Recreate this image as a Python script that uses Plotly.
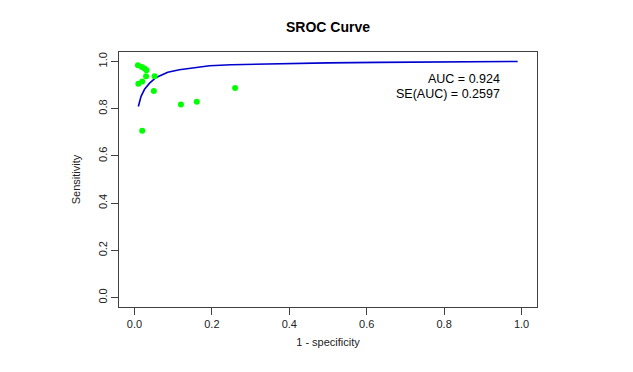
import plotly.graph_objects as go

# Study points (1 - specificity, sensitivity)
study_fpr = [0.009, 0.019, 0.026, 0.031, 0.010, 0.020, 0.030, 0.052, 0.050, 0.120, 0.161, 0.260, 0.020]
study_sens = [0.984, 0.977, 0.970, 0.963, 0.906, 0.915, 0.937, 0.937, 0.875, 0.818, 0.829, 0.888, 0.707]

# SROC curve
curve_fpr = [0.010, 0.013, 0.017, 0.026, 0.039, 0.056, 0.073, 0.086, 0.116, 0.159, 0.194, 0.25, 0.38, 0.5, 0.63, 0.8, 0.99]
curve_sens = [0.809, 0.832, 0.852, 0.882, 0.908, 0.932, 0.946, 0.954, 0.965, 0.976, 0.982, 0.986, 0.991, 0.994, 0.996, 0.998, 1.0]

tick_vals = [0.0, 0.2, 0.4, 0.6, 0.8, 1.0]
tick_text = ["0.0", "0.2", "0.4", "0.6", "0.8", "1.0"]

auc_text = "AUC = 0.924"
se_text = "SE(AUC) = 0.2597"

font = "Liberation Sans, Arial, sans-serif"

fig = go.Figure()
fig.add_trace(go.Scatter(x=curve_fpr, y=curve_sens, mode="lines",
                         line=dict(color="#0000CD", width=1.6), hoverinfo="skip"))
fig.add_trace(go.Scatter(x=study_fpr, y=study_sens, mode="markers",
                         marker=dict(color="#00FF00", size=6, line=dict(width=0))))

fig.add_annotation(x=0.949, y=0.924, xref="x", yref="y", text=auc_text, showarrow=False,
                   xanchor="right", yanchor="middle", font=dict(family=font, size=12.5, color="#000"))
fig.add_annotation(x=0.949, y=0.862, xref="x", yref="y", text=se_text, showarrow=False,
                   xanchor="right", yanchor="middle", font=dict(family=font, size=12.5, color="#000"))

axis_common = dict(showline=True, mirror=True, linecolor="#404040", linewidth=1,
                   ticks="outside", ticklen=7, tickcolor="#404040", tickwidth=1,
                   showgrid=False, zeroline=False, automargin=False,
                   tickvals=tick_vals, ticktext=tick_text,
                   tickfont=dict(family=font, size=11, color="#222"))

fig.update_layout(
    width=625, height=364,
    margin=dict(l=111, r=96, t=44, b=65),
    paper_bgcolor="white", plot_bgcolor="white",
    showlegend=False,
    title=dict(text="<b>SROC Curve</b>", x=(111 + (625 - 96 - 111) / 2) / 625, xanchor="center",
               y=1 - 19 / 364, yanchor="middle",
               font=dict(family=font, size=14, color="#000")),
    xaxis=dict(range=[-0.04, 1.04], title=dict(text="1 - specificity", standoff=9,
               font=dict(family=font, size=11, color="#222")), **axis_common),
    yaxis=dict(range=[-0.04, 1.04], tickangle=-90, title=dict(text="Sensitivity", standoff=13,
               font=dict(family=font, size=11, color="#222")), **axis_common),
)

fig.write_html("out.html")
